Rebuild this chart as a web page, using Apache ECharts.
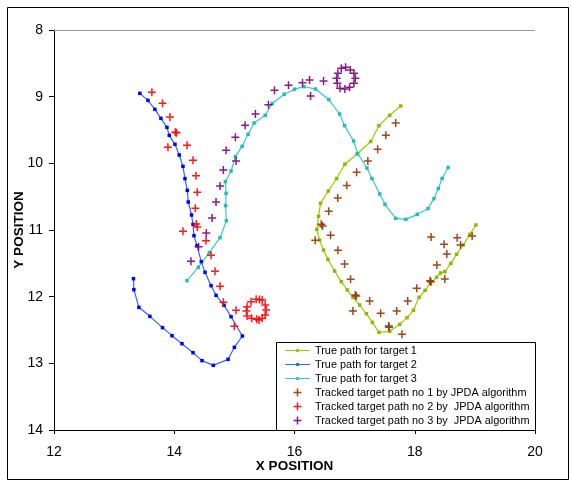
<!DOCTYPE html>
<html><head><meta charset="utf-8">
<script src="https://cdn.jsdelivr.net/npm/echarts@6/dist/echarts.min.js"></script>
<style>html,body{margin:0;padding:0;background:#fff}#c{width:571px;height:482px}</style>
</head><body><div id="c"></div>
<script>
// True path for target 1
const t1X = [17.767,17.583,17.405,17.267,17.042,16.838,16.700,16.562,16.433,16.400,16.372,16.417,16.483,16.555,16.667,16.778,16.878,16.972,17.083,17.195,17.295,17.405,17.583,17.750,17.872,17.978,18.072,18.172,18.262,18.362,18.428,18.500,18.600,18.695,18.805,18.917,19.017];
const t1Y = [9.140,9.280,9.435,9.673,9.860,10.013,10.228,10.415,10.600,10.795,10.990,11.150,11.300,11.440,11.615,11.775,11.900,12.010,12.125,12.255,12.385,12.535,12.520,12.415,12.315,12.205,12.010,11.905,11.800,11.710,11.645,11.625,11.500,11.365,11.225,11.065,10.925];
// True path for target 2
const t2X = [13.428,13.562,13.678,13.778,13.878,13.917,14.012,14.083,14.145,14.178,14.217,14.233,14.288,14.312,14.328,14.378,14.450,14.512,14.612,14.695,14.828,14.945,15.133,15.000,14.895,14.650,14.462,14.312,14.128,13.962,13.805,13.595,13.412,13.328,13.322];
const t2Y = [8.950,9.055,9.190,9.325,9.460,9.580,9.715,9.875,10.045,10.230,10.405,10.580,10.775,10.915,11.085,11.235,11.475,11.635,11.835,11.980,12.130,12.300,12.590,12.760,12.940,13.030,12.960,12.840,12.705,12.585,12.465,12.295,12.160,11.895,11.730];
// True path for target 3
const t3X = [14.212,14.400,14.583,14.762,14.867,14.855,14.862,14.850,14.945,15.017,15.128,15.228,15.328,15.512,15.628,15.830,16.000,16.155,16.350,16.570,16.750,16.833,16.983,17.050,17.205,17.288,17.417,17.505,17.683,17.853,18.042,18.220,18.320,18.392,18.455,18.555];
const t3Y = [11.760,11.560,11.338,11.115,10.860,10.635,10.450,10.275,10.115,9.900,9.745,9.565,9.395,9.280,9.103,8.963,8.888,8.850,8.885,9.043,9.260,9.435,9.665,9.855,10.070,10.228,10.460,10.615,10.825,10.840,10.765,10.680,10.530,10.378,10.228,10.063];
// Tracked paths (JPDA)
const k1X = [17.683,17.520,17.383,17.220,17.033,16.870,16.720,16.570,16.445,16.467,16.345,16.600,16.722,16.833,16.933,17.012,17.028,16.972,17.250,17.433,17.567,17.572,17.788,17.700,17.883,18.033,18.255,18.267,18.500,18.367,18.533,18.488,18.272,18.705,18.762,18.955];
const k1Y = [9.395,9.578,9.788,9.965,10.133,10.331,10.520,10.720,10.915,10.940,11.155,11.080,11.305,11.510,11.740,11.975,11.990,12.215,12.065,12.250,12.440,12.460,12.565,12.215,12.065,11.875,11.760,11.775,11.735,11.525,11.360,11.215,11.105,11.115,11.225,11.090];
const k2X = [13.628,13.805,13.928,14.017,14.038,13.895,14.212,14.312,14.362,14.383,14.350,14.367,14.383,14.145,14.528,14.612,14.678,14.762,14.817,15.028,15.000,15.278,15.362,15.462,15.512,15.528,15.512,15.462,15.372,15.288,15.212,15.200,15.212,15.408,15.417];
const k2Y = [8.935,9.100,9.305,9.535,9.540,9.760,9.730,9.955,10.185,10.435,10.675,10.910,10.955,11.020,11.160,11.380,11.620,11.845,12.085,12.205,12.445,12.075,12.040,12.050,12.125,12.200,12.275,12.325,12.340,12.325,12.290,12.215,12.150,12.350,12.042];
const k3X = [14.278,14.405,14.533,14.630,14.695,14.762,14.817,15.028,14.862,15.017,15.178,15.350,15.567,15.667,15.900,16.133,16.250,16.267,16.483,16.778,16.850,16.928,16.988,17.012,16.988,16.917,16.838,16.755,16.712,16.700,16.722];
const k3Y = [11.470,11.250,11.045,10.820,10.580,10.340,10.100,9.965,9.803,9.610,9.428,9.260,9.122,8.903,8.828,8.790,8.750,8.990,8.765,8.575,8.560,8.600,8.650,8.725,8.800,8.860,8.885,8.875,8.800,8.725,8.650];

const seriesNames = ['True path for target 1','True path for target 2','True path for target 3',
  'Tracked target path no 1 by JPDA algorithm','Tracked target path no 2 by  JPDA algorithm','Tracked target path no 3 by  JPDA algorithm'];

const FONT = "'Liberation Sans', Arial, sans-serif";
const PLUS = 'path://M0,3.25H3.25V0H4.75V3.25H8V4.75H4.75V8H3.25V4.75H0Z';
const LINEICON = 'path://M0,3.4H25V4.6H0Z M11,2.5H14V5.5H11Z';
const zip = (xs, ys) => xs.map((x, i) => [x, ys[i]]);

function lineSeries(name, xs, ys, lineColor, markColor) {
  return { name, type: 'line', data: zip(xs, ys), symbol: 'rect', symbolSize: 3.5, showSymbol: true,
    lineStyle: { color: lineColor, width: 1.2 }, itemStyle: { color: markColor }, animation: false, z: 2 };
}
function crossSeries(name, xs, ys, color) {
  return { name, type: 'scatter', data: zip(xs, ys), symbol: PLUS, symbolSize: 8,
    itemStyle: { color, opacity: 0.9 }, animation: false, z: 3 };
}

const chart = echarts.init(document.getElementById('c'));
chart.setOption({
  animation: false,
  backgroundColor: '#fff',
  grid: { left: 54, right: 36, top: 30, bottom: 52 },
  xAxis: { type: 'value', min: 12, max: 20, interval: 2,
    name: 'X POSITION', nameLocation: 'middle', nameGap: 29, nameMoveOverlap: false,
    nameTextStyle: { fontFamily: FONT, fontSize: 13.5, fontWeight: 'bold', color: '#000' },
    axisLine: { onZero: false, lineStyle: { color: '#000', width: 1 } },
    axisTick: { show: true, length: 4, lineStyle: { color: '#000' } },
    axisLabel: { fontFamily: FONT, fontSize: 14, color: '#000', margin: 15 },
    splitLine: { show: false } },
  yAxis: { type: 'value', min: 8, max: 14, interval: 1, inverse: true,
    name: 'Y POSITION', nameLocation: 'middle', nameGap: 28, nameMoveOverlap: false,
    nameTextStyle: { fontFamily: FONT, fontSize: 13.5, fontWeight: 'bold', color: '#000' },
    axisLine: { onZero: false, lineStyle: { color: '#000', width: 1 } },
    axisTick: { show: true, length: 5, lineStyle: { color: '#000' } },
    axisLabel: { fontFamily: FONT, fontSize: 14, color: '#000', margin: 11 },
    splitLine: { show: false } },
  legend: { orient: 'vertical', left: 285, top: 345, itemWidth: 25, itemHeight: 8, itemGap: 3,
    padding: 0, z: 5,
    data: [
      { name: seriesNames[0], icon: LINEICON, itemStyle: { color: '#99cc00' } },
      { name: seriesNames[1], icon: LINEICON, itemStyle: { color: '#3366ff' } },
      { name: seriesNames[2], icon: LINEICON, itemStyle: { color: '#33cccc' } },
      { name: seriesNames[3] }, { name: seriesNames[4] }, { name: seriesNames[5] }
    ],
    textStyle: { fontFamily: FONT, fontSize: 10.9, color: '#000' } },
  graphic: [
    { type: 'rect', left: 276, top: 342, shape: { width: 259, height: 88 }, z: 4,
      style: { fill: '#fff', stroke: '#000', lineWidth: 1 } },
    { type: 'rect', left: 5, top: 5, shape: { width: 561, height: 472 }, z: 10, silent: true,
      style: { fill: 'none', stroke: '#000', lineWidth: 1 } }
  ],
  series: [
    Object.assign(lineSeries(seriesNames[0], t1X, t1Y, '#99cc00', '#88bb00'), {
      markLine: { silent: true, symbol: 'none', label: { show: false },
        lineStyle: { color: '#999', width: 1, type: 'solid' }, data: [{ yAxis: 8 }] } }),
    lineSeries(seriesNames[1], t2X, t2Y, '#3366ff', '#0000ff'),
    lineSeries(seriesNames[2], t3X, t3Y, '#33cccc', '#22bbbb'),
    crossSeries(seriesNames[3], k1X, k1Y, '#993300'),
    crossSeries(seriesNames[4], k2X, k2Y, '#ff0000'),
    crossSeries(seriesNames[5], k3X, k3Y, '#800080')
  ]
});
</script></body></html>
